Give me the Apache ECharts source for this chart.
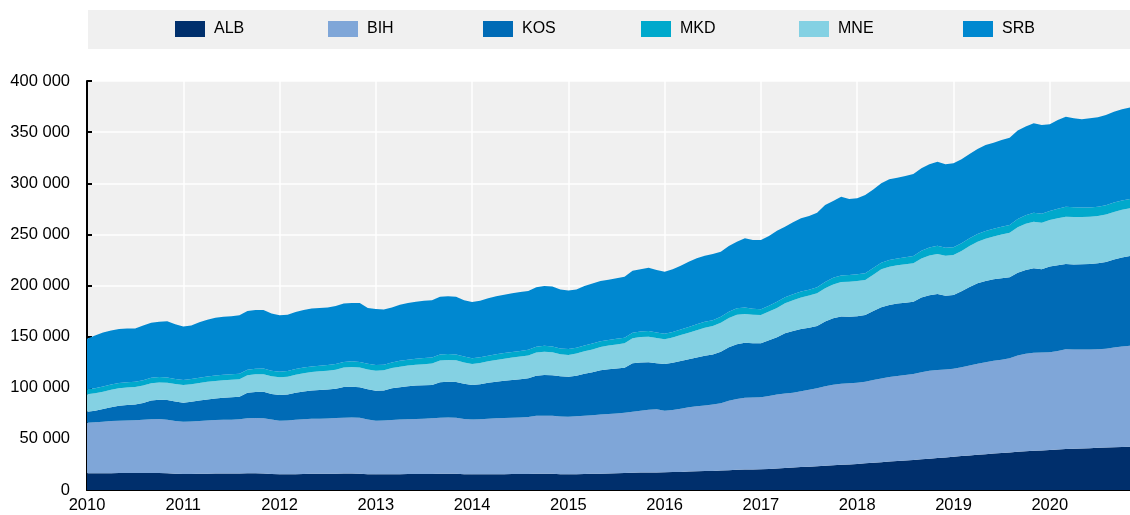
<!DOCTYPE html>
<html>
<head>
<meta charset="utf-8">
<script src="https://cdn.jsdelivr.net/npm/echarts@6/dist/echarts.min.js"></script>
<style>
  html, body { margin: 0; padding: 0; background: #fff; }
  #chart { width: 1130px; height: 515px; }
</style>
</head>
<body>
<div id="chart"></div>
<script>
// monthly, Jan 2010 - Nov 2020, in thousands
var firstYear = 2010
var monthCount = 131

var alb = [
  16.3, 16.4, 16.5, 16.5, 16.6, 16.6, 16.6, 16.6, 16.7, 16.7, 16.5, 16.0,
  15.6, 15.7, 15.9, 16.0, 16.1, 16.1, 16.1, 16.2, 16.3, 16.3, 16.2, 15.6,
  15.3, 15.3, 15.5, 15.7, 15.8, 15.8, 15.9, 16.0, 16.1, 16.1, 16.0, 15.5,
  15.3, 15.3, 15.4, 15.5, 15.6, 15.6, 15.6, 15.7, 15.8, 15.9, 15.8, 15.4,
  15.3, 15.3, 15.4, 15.5, 15.5, 15.6, 15.6, 15.7, 15.8, 15.9, 15.8, 15.4,
  15.3, 15.4, 15.6, 15.8, 16.0, 16.2, 16.4, 16.6, 16.9, 17.1, 17.2, 17.1,
  17.3, 17.5, 17.7, 18.0, 18.3, 18.5, 18.7, 19.0, 19.4, 19.7, 20.0, 20.0,
  20.2, 20.6, 21.0, 21.5, 22.0, 22.4, 22.8, 23.2, 23.8, 24.3, 24.8, 25.0,
  25.5, 26.1, 26.6, 27.2, 27.8, 28.3, 28.8, 29.3, 30.0, 30.6, 31.2, 31.9,
  32.6, 33.2, 33.8, 34.4, 35.0, 35.6, 36.1, 36.6, 37.3, 37.9, 38.4, 38.6,
  39.1, 39.6, 40.1, 40.4, 40.6, 40.9, 41.2, 41.5, 41.8, 42.0, 42.3
]
var bih = [
  49.5, 49.9, 50.3, 50.9, 51.2, 51.4, 51.6, 52.0, 52.4, 52.7, 52.3, 51.5,
  51.2, 51.3, 51.7, 52.0, 52.3, 52.5, 52.7, 53.0, 53.8, 54.0, 54.0, 53.4,
  52.5, 52.7, 53.1, 53.5, 53.8, 54.0, 54.1, 54.3, 54.6, 54.7, 54.7, 53.5,
  52.5, 52.7, 53.1, 53.4, 53.5, 53.8, 54.1, 54.5, 54.9, 54.9, 54.8, 54.1,
  53.7, 54.0, 54.3, 54.6, 54.9, 55.1, 55.4, 55.7, 56.7, 56.8, 56.8, 56.6,
  56.4, 56.7, 57.0, 57.4, 57.8, 58.1, 58.5, 59.0, 59.7, 60.4, 61.2, 61.8,
  60.3, 60.8, 61.8, 62.9, 63.5, 64.2, 64.9, 65.8, 67.8, 69.3, 70.2, 70.4,
  70.4, 71.4, 72.3, 72.8, 73.2, 74.2, 75.2, 76.2, 77.7, 78.7, 79.2, 79.5,
  79.5, 79.8, 80.9, 81.8, 82.7, 83.2, 83.7, 84.1, 85.2, 86.0, 86.2, 85.9,
  86.1, 86.8, 88.0, 89.1, 90.0, 90.7, 91.4, 92.2, 94.2, 95.4, 95.9, 95.8,
  95.5, 96.4, 97.5, 97.0, 96.8, 96.6, 96.4, 96.7, 97.5, 98.3, 98.8
]
var kos = [
  10.8, 11.2, 12.4, 13.6, 14.5, 15.1, 15.4, 16.4, 18.4, 18.8, 19.2, 19.0,
  18.6, 19.3, 19.9, 20.6, 21.2, 21.6, 21.9, 22.1, 24.9, 25.5, 25.9, 25.0,
  25.1, 25.4, 26.6, 27.2, 27.8, 28.1, 28.3, 28.7, 30.0, 30.2, 29.7, 29.5,
  29.3, 29.3, 30.9, 31.7, 32.4, 32.7, 32.8, 32.6, 34.8, 35.1, 35.0, 34.5,
  33.7, 34.2, 35.1, 35.8, 36.4, 36.9, 37.4, 37.8, 39.3, 39.8, 39.6, 39.2,
  39.1, 39.7, 41.0, 42.0, 43.2, 43.7, 43.9, 44.0, 47.3, 47.1, 46.5, 45.1,
  45.6, 46.2, 46.7, 46.9, 47.7, 48.6, 48.9, 50.5, 52.3, 53.5, 53.9, 53.1,
  52.8, 54.5, 56.2, 58.9, 60.3, 60.9, 60.8, 61.0, 63.3, 64.9, 65.6, 65.0,
  65.0, 65.2, 67.5, 69.7, 70.5, 70.8, 70.7, 70.8, 73.0, 73.9, 74.3, 72.2,
  72.0, 74.3, 76.7, 78.6, 79.5, 79.7, 79.5, 79.2, 81.0, 81.9, 82.5, 81.4,
  83.9, 83.8, 83.4, 83.2, 83.3, 83.5, 84.1, 84.8, 86.2, 87.2, 87.8
]
var mne = [
  17.0, 17.0, 17.0, 17.1, 17.1, 17.1, 17.1, 17.1, 17.0, 17.0, 17.0, 17.1,
  17.3, 17.2, 17.2, 17.2, 17.1, 17.1, 17.1, 17.1, 17.2, 17.3, 17.2, 17.2,
  17.3, 17.4, 17.6, 17.8, 18.0, 18.2, 18.4, 18.6, 19.0, 19.2, 19.3, 19.4,
  19.6, 19.7, 19.8, 20.0, 20.2, 20.4, 20.6, 20.8, 21.2, 21.3, 21.2, 20.8,
  20.5, 20.7, 21.0, 21.3, 21.6, 21.9, 22.1, 22.3, 22.7, 22.8, 22.4, 21.5,
  21.2, 21.6, 22.0, 22.3, 22.8, 23.2, 23.6, 23.8, 24.5, 25.0, 25.1, 24.6,
  24.2, 24.6, 25.3, 26.1, 26.8, 27.4, 27.8, 28.3, 28.8, 28.9, 28.0, 27.8,
  27.7, 28.0, 28.6, 29.4, 30.0, 30.8, 31.3, 32.0, 32.6, 33.2, 33.8, 34.2,
  34.3, 34.3, 35.6, 37.1, 37.3, 37.4, 37.5, 37.5, 38.3, 38.8, 39.1, 39.0,
  39.1, 39.5, 40.1, 40.7, 41.3, 42.0, 42.8, 43.6, 44.5, 45.2, 45.6, 45.6,
  45.5, 45.9, 46.3, 46.3, 46.2, 46.2, 46.3, 46.4, 46.5, 46.5, 46.6
]
var mkd = [
  4.9, 5.0, 5.1, 5.1, 5.2, 5.2, 5.2, 5.2, 5.2, 5.2, 5.1, 5.0,
  4.9, 5.0, 5.1, 5.2, 5.2, 5.3, 5.3, 5.4, 5.5, 5.5, 5.5, 5.4,
  5.5, 5.5, 5.5, 5.5, 5.5, 5.5, 5.5, 5.6, 5.6, 5.6, 5.6, 5.5,
  5.5, 5.5, 5.6, 5.7, 5.8, 5.8, 5.9, 5.9, 5.9, 5.9, 5.8, 5.7,
  5.6, 5.6, 5.6, 5.6, 5.6, 5.5, 5.5, 5.6, 5.7, 5.8, 5.8, 5.8,
  5.9, 5.8, 5.7, 5.7, 5.6, 5.6, 5.5, 5.5, 5.5, 5.5, 5.5, 5.4,
  5.3, 5.4, 5.5, 5.6, 5.7, 5.8, 5.8, 5.9, 6.1, 6.3, 6.4, 6.0,
  5.7, 5.8, 5.9, 5.9, 5.9, 5.9, 5.8, 5.8, 6.1, 6.4, 6.5, 6.6,
  6.6, 6.6, 6.6, 6.5, 6.6, 6.8, 7.0, 7.2, 7.6, 7.9, 8.0, 7.8,
  7.6, 7.6, 7.6, 7.6, 7.6, 7.6, 7.6, 7.6, 8.0, 8.4, 8.8, 8.8,
  8.8, 9.3, 9.8, 9.6, 9.3, 9.2, 9.1, 9.1, 9.1, 9.1, 9.1
]
var srb = [
  49.5, 51.5, 52.7, 52.8, 52.9, 52.6, 52.1, 53.7, 53.8, 54.1, 54.9, 53.4,
  52.4, 52.5, 54.2, 55.5, 56.6, 56.9, 56.9, 57.2, 57.3, 57.4, 57.2, 55.9,
  55.3, 55.2, 55.7, 56.3, 56.6, 56.4, 56.3, 56.8, 57.2, 57.2, 57.7, 54.6,
  54.8, 54.0, 53.8, 54.9, 55.5, 55.7, 56.0, 56.1, 56.4, 56.4, 56.4, 55.1,
  55.1, 55.2, 56.1, 56.7, 57.0, 57.4, 57.6, 57.5, 58.0, 58.4, 58.6, 57.5,
  57.1, 56.8, 58.2, 58.8, 59.0, 58.8, 59.1, 59.7, 60.6, 60.9, 61.9, 61.2,
  60.8, 61.3, 62.4, 63.8, 64.6, 64.7, 64.7, 63.5, 64.2, 65.1, 67.6, 67.2,
  67.7, 68.1, 69.6, 69.0, 70.4, 71.5, 72.1, 73.0, 75.2, 75.1, 77.0, 74.3,
  74.4, 76.5, 76.8, 77.7, 79.0, 79.0, 79.4, 80.1, 80.5, 81.3, 82.2, 81.7,
  82.1, 82.0, 82.4, 83.1, 84.0, 84.1, 84.9, 85.4, 86.5, 86.6, 87.5, 86.8,
  84.8, 86.9, 88.0, 87.0, 86.3, 87.1, 87.4, 88.2, 88.9, 89.2, 89.4
]

var yTicks = [0, 50, 100, 150, 200, 250, 300, 350, 400]
var legendNames = ['ALB', 'BIH', 'KOS', 'MKD', 'MNE', 'SRB']

var months = []
for (var i = 0; i < monthCount; i++) {
  var yr = firstYear + Math.floor(i / 12)
  var mo = (i % 12) + 1
  months.push(yr + '-' + (mo < 10 ? '0' : '') + mo)
}

var colors = {
  ALB: '#002F6C',
  BIH: '#7FA6D8',
  KOS: '#006BB6',
  MKD: '#00A9CC',
  MNE: '#84D1E3',
  SRB: '#0088D0'
}

var FONT = "'Liberation Sans', Arial, sans-serif"
var isYear = function (idx) { return idx % 12 === 0 }

function area (name, data) {
  return {
    name: name,
    type: 'line',
    stack: 'total',
    data: data,
    symbol: 'none',
    lineStyle: { width: 0 },
    itemStyle: { color: colors[name] },
    areaStyle: { color: colors[name], opacity: 1 },
    emphasis: { disabled: true }
  }
}

var legendLeft = [175, 328, 483, 641, 799, 963]

var option = {
  animation: false,
  textStyle: { fontFamily: FONT },
  graphic: [{
    type: 'rect',
    left: 88,
    top: 10,
    shape: { width: 1042, height: 39 },
    style: { fill: '#f0f0f0' },
    z: -1
  }],
  legend: legendNames.map(function (n, k) {
    return {
      data: [n],
      left: legendLeft[k],
      top: 21,
      padding: 0,
      itemWidth: 30,
      itemHeight: 16,
      icon: 'rect',
      selectedMode: false,
      textStyle: { fontFamily: FONT, fontSize: 16, color: '#000', lineHeight: 16, padding: [0, 0, 0, 4] }
    }
  }),
  grid: {
    left: 87,
    right: 0,
    top: 81,
    bottom: 25,
    show: true,
    backgroundColor: '#f0f0f0',
    borderWidth: 0
  },
  xAxis: {
    type: 'category',
    data: months,
    boundaryGap: false,
    axisLine: { lineStyle: { color: '#000', width: 2 } },
    axisTick: { inside: true, length: 5, interval: isYear, lineStyle: { color: '#000', width: 2 } },
    axisLabel: {
      interval: isYear,
      formatter: function (v) { return v.slice(0, 4) },
      fontFamily: FONT,
      fontSize: 16.5,
      color: '#000',
      margin: 7
    },
    splitLine: { show: true, interval: isYear, lineStyle: { color: '#fff', width: 1.5 } }
  },
  yAxis: {
    type: 'value',
    min: yTicks[0],
    max: yTicks[yTicks.length - 1],
    interval: yTicks[1] - yTicks[0],
    axisLine: { show: true, lineStyle: { color: '#000', width: 2 } },
    axisTick: { show: true, inside: true, length: 5, lineStyle: { color: '#000', width: 2 } },
    axisLabel: {
      formatter: function (v) { return v === 0 ? '0' : v + ' 000' },
      fontFamily: FONT,
      fontSize: 16.5,
      color: '#000',
      margin: 17
    },
    splitLine: { lineStyle: { color: '#fff', width: 1.5 } }
  },
  // stacking order as drawn: MNE band sits below the thin MKD band
  series: [
    area('ALB', alb),
    area('BIH', bih),
    area('KOS', kos),
    area('MNE', mne),
    area('MKD', mkd),
    area('SRB', srb)
  ]
}

var chart = echarts.init(document.getElementById('chart'), null, { renderer: 'canvas' })
chart.setOption(option)
</script>
</body>
</html>
